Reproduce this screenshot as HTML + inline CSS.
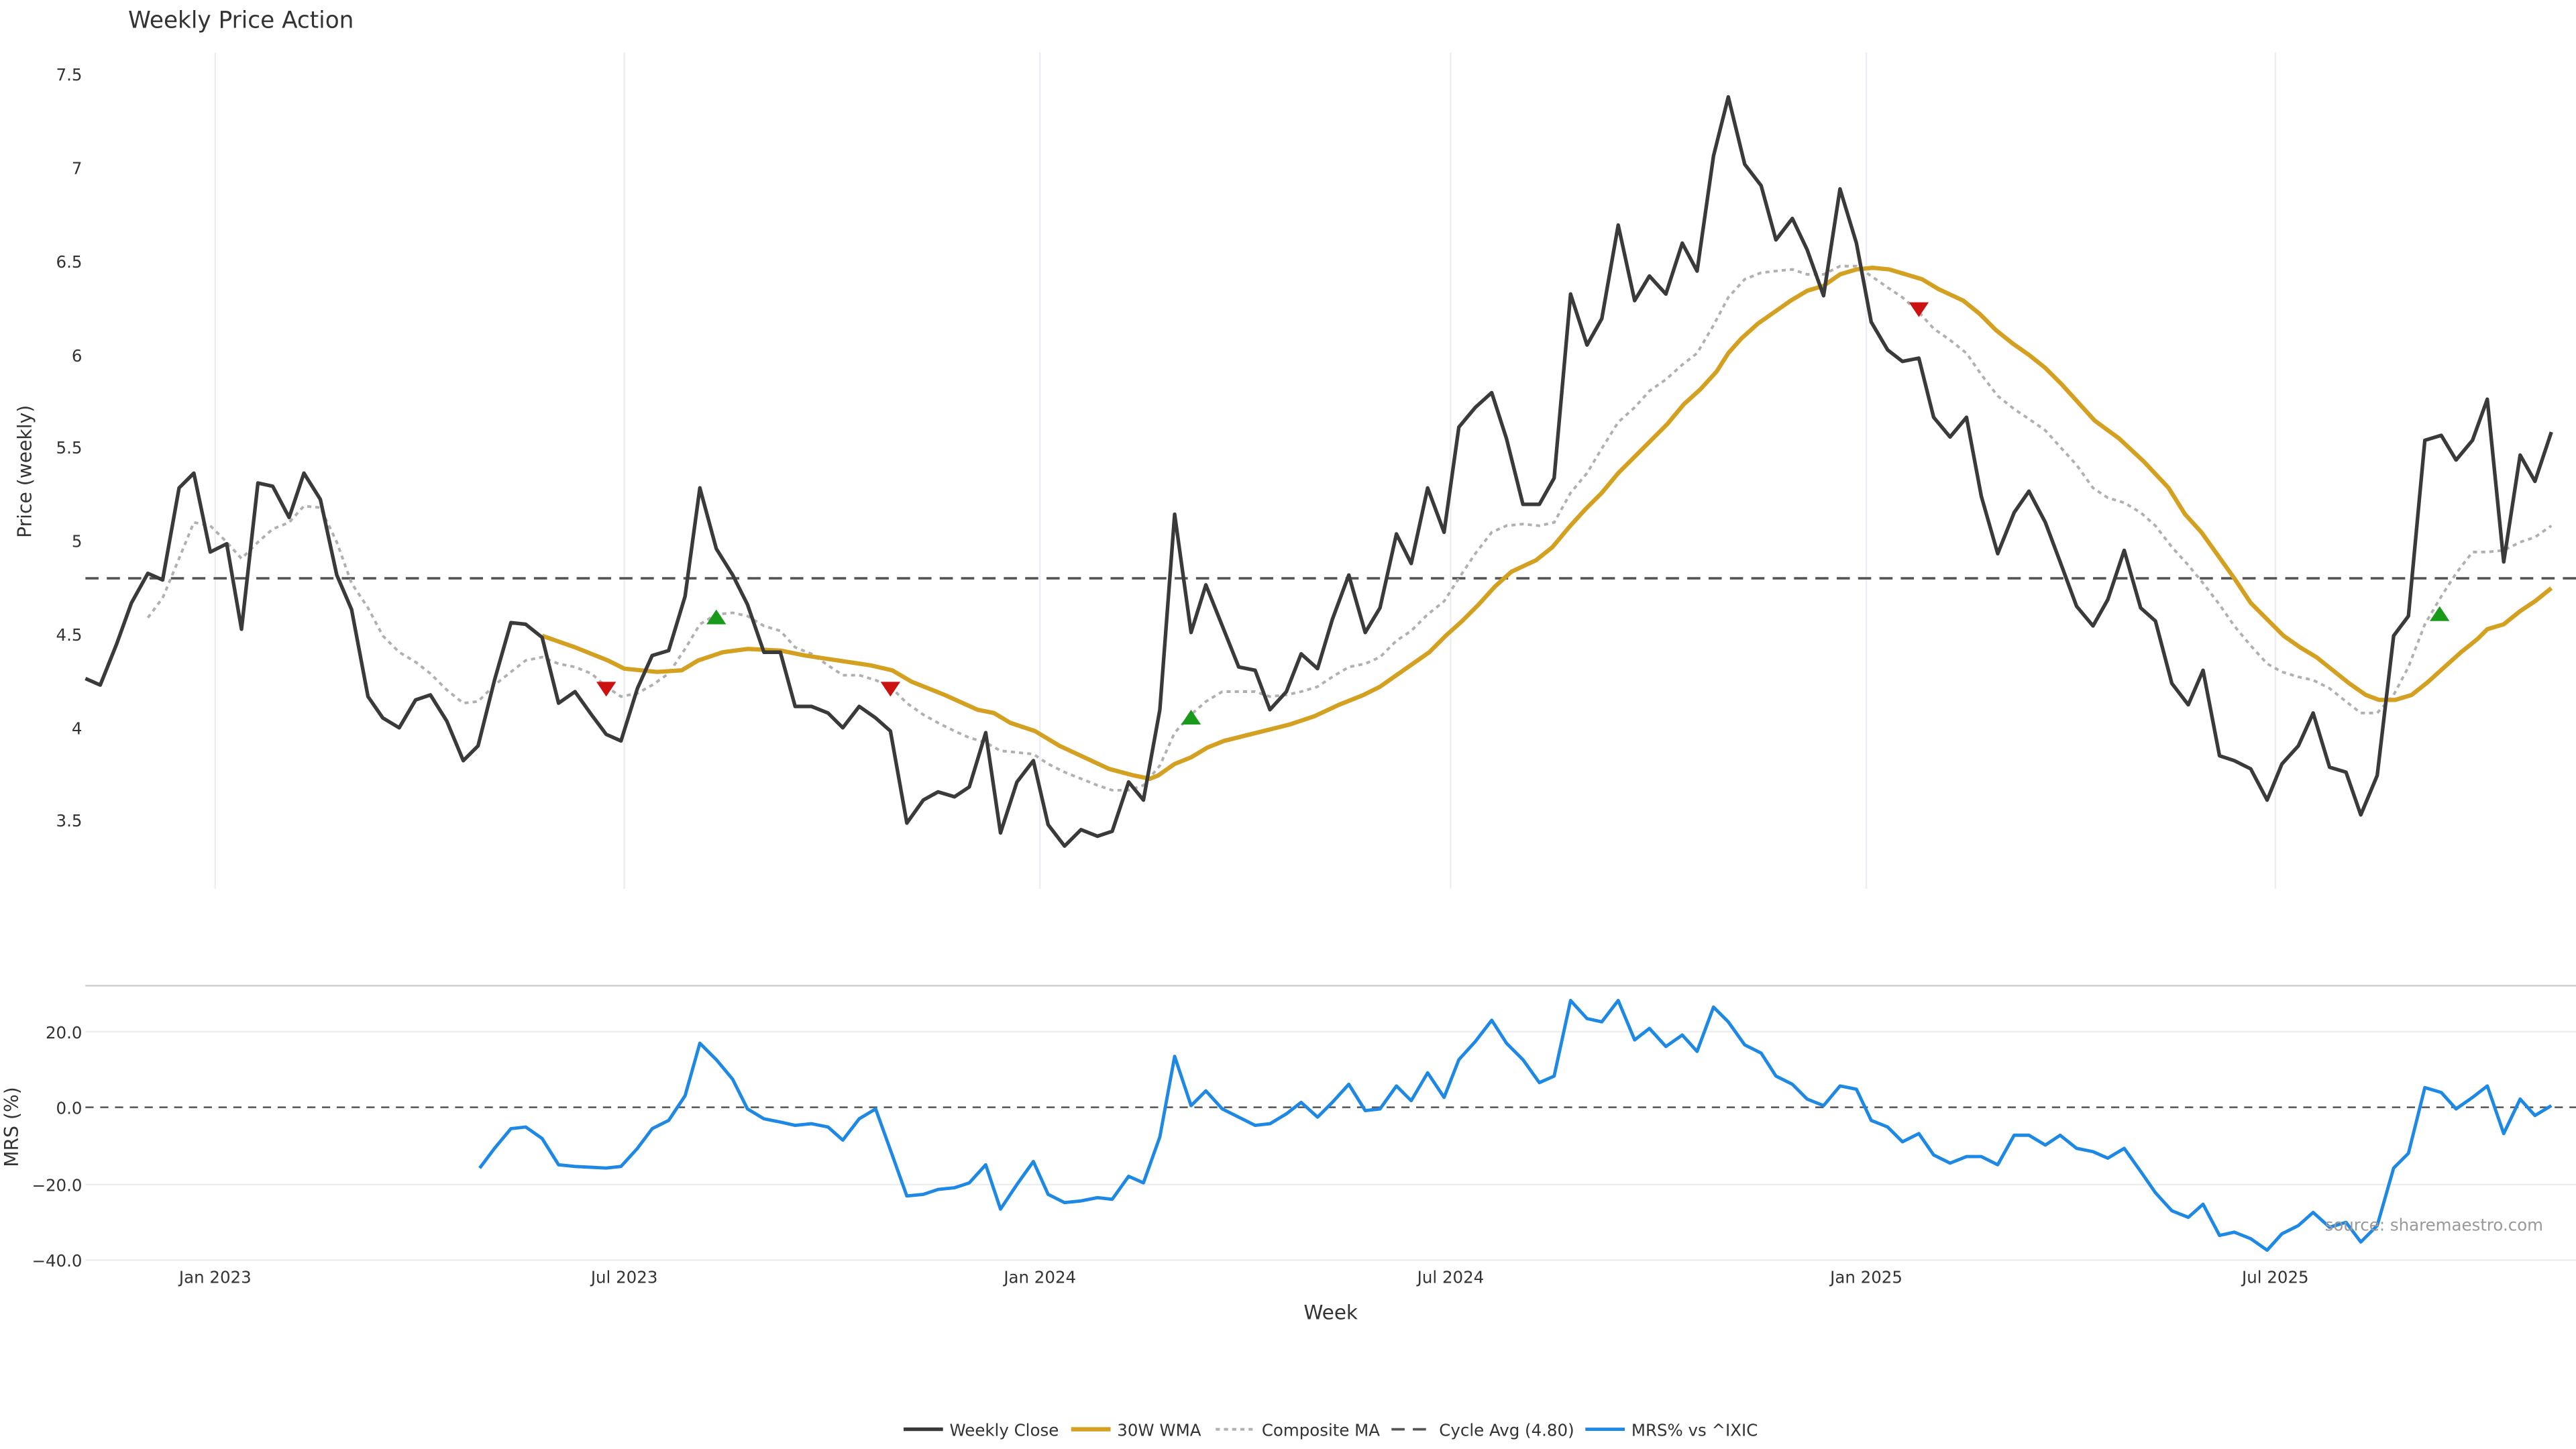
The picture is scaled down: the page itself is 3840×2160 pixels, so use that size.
<!DOCTYPE html>
<html><head><meta charset="utf-8"><style>
html,body{margin:0;padding:0;background:#fff;width:3840px;height:2160px;overflow:hidden}
svg{display:block}
text{font-family:"DejaVu Sans","Liberation Sans",sans-serif}
</style></head><body>
<svg width="3840" height="2160" viewBox="0 0 1568 882" xmlns="http://www.w3.org/2000/svg">
<rect width="1568" height="882" fill="#fff"/>
<text x="78" y="17" font-size="14" fill="#333">Weekly Price Action</text>
<g stroke="#eceef2" stroke-width="1">
<line x1="131" y1="32" x2="131" y2="541"/><line x1="380" y1="32" x2="380" y2="541"/>
<line x1="633" y1="32" x2="633" y2="541"/><line x1="883" y1="32" x2="883" y2="541"/>
<line x1="1136" y1="32" x2="1136" y2="541"/><line x1="1385" y1="32" x2="1385" y2="541"/>
</g>
<g font-size="10" fill="#333" text-anchor="end">
<text x="50" y="49">7.5</text><text x="50" y="106">7</text><text x="50" y="163">6.5</text>
<text x="50" y="220">6</text><text x="50" y="276">5.5</text><text x="50" y="333">5</text>
<text x="50" y="390">4.5</text><text x="50" y="447">4</text><text x="50" y="503">3.5</text>
</g>
<text transform="translate(19,287) rotate(-90)" font-size="11.5" fill="#333" text-anchor="middle">Price (weekly)</text>
<line x1="52" y1="352" x2="1568" y2="352" stroke="#555" stroke-width="1.5" stroke-dasharray="8,5"/>
<polyline fill="none" stroke="#b0b0b0" stroke-width="1.6" stroke-dasharray="2.5,2.5" points="90,376 99,364 109,340 118,318 128,320 138,330 147,340 157,330 166,322 176,318 185,308 195,309 205,330 214,355 224,370 233,387 243,397 253,403 262,410 272,420 282,428 291,427 301,417 311,409 320,402 330,400 340,404 350,406 360,410 369,418 378,424 388,422 397,417 407,410 417,395 426,380 436,374 446,373 455,375 465,381 475,384 484,394 494,398 504,405 513,411 523,411 533,414 542,418 552,428 562,435 571,440 581,445 590,449 600,452 609,457 619,458 629,459 638,465 648,470 658,474 668,478 677,481 687,481 696,478 706,466 715,446 725,435 734,427 744,421 754,421 764,421 773,424 783,423 792,421 802,418 811,412 821,406 831,404 840,400 850,390 859,384 869,374 879,366 888,352 898,337 908,324 917,320 927,319 937,320 946,318 956,300 966,288 975,273 985,257 995,248 1004,238 1014,231 1024,222 1033,215 1043,198 1052,181 1062,170 1072,166 1081,165 1091,164 1100,167 1110,167 1120,162 1130,162 1139,168 1149,175 1158,181 1168,190 1177,200 1187,207 1197,215 1206,228 1216,241 1226,249 1235,255 1245,262 1254,272 1264,283 1274,297 1283,303 1293,306 1303,312 1312,320 1322,333 1332,344 1341,355 1351,368 1360,381 1370,393 1380,404 1389,409 1399,412 1408,414 1418,419 1428,427 1437,434 1447,434 1457,423 1466,406 1476,380 1486,363 1495,349 1505,336 1514,336 1524,335 1534,330 1543,327 1553,320"/>
<polyline fill="none" stroke="#d4a020" stroke-width="2.6" stroke-linejoin="round" points="330,387 350,394 370,402 380,407 400,409 415,408 425,402 440,397 455,395 475,396 490,399 510,402 530,405 543,408 555,415 575,423 595,432 605,434 615,440 630,445 645,454 660,461 675,468 690,472 700,474 705,472 715,465 725,461 735,455 745,451 765,446 785,441 800,436 815,429 830,423 840,418 850,411 860,404 870,397 880,387 890,378 900,368 910,357 920,348 935,341 945,333 955,321 965,310 975,300 985,288 995,278 1005,268 1015,258 1025,246 1035,237 1045,226 1052,215 1060,206 1070,197 1080,190 1090,183 1100,177 1110,174 1120,167 1130,164 1140,163 1150,164 1160,167 1170,170 1180,176 1195,183 1205,191 1215,201 1225,209 1235,216 1245,224 1255,234 1265,245 1275,256 1290,267 1305,281 1320,297 1330,313 1340,324 1350,338 1360,352 1370,367 1380,377 1390,387 1400,394 1410,400 1420,408 1430,416 1440,423 1448,426 1458,426 1468,423 1478,415 1488,406 1498,397 1508,389 1514,383 1524,380 1534,372 1543,366 1553,358"/>
<polyline fill="none" stroke="#3a3a3a" stroke-width="2.2" stroke-linejoin="round" points="52,413 61,417 71,392 80,367 90,349 99,353 109,297 118,288 128,336 138,331 147,383 157,294 166,296 176,315 185,288 195,304 205,350 214,371 224,424 233,437 243,443 253,426 262,423 272,439 282,463 291,454 301,414 311,379 320,380 330,388 340,428 350,421 360,435 369,447 378,451 388,419 397,399 407,396 417,363 426,297 436,334 446,350 455,368 465,397 475,397 484,430 494,430 504,434 513,443 523,430 533,437 542,445 552,501 562,487 571,482 581,485 590,479 600,446 609,507 619,476 629,463 638,502 648,515 658,505 668,509 677,506 687,476 696,487 706,432 715,313 725,385 734,356 744,381 754,406 764,408 773,432 783,421 792,398 802,407 811,377 821,350 831,385 840,370 850,325 859,343 869,297 879,324 888,260 898,248 908,239 917,267 927,307 937,307 946,291 956,179 966,210 975,194 985,137 995,183 1004,168 1014,179 1024,148 1033,165 1043,95 1052,59 1062,100 1072,113 1081,146 1091,133 1100,152 1110,180 1120,115 1130,148 1139,196 1149,213 1158,220 1168,218 1177,254 1187,266 1197,254 1206,302 1216,337 1226,312 1235,299 1245,318 1254,342 1264,369 1274,381 1283,365 1293,335 1303,370 1312,378 1322,416 1332,429 1341,408 1351,460 1360,463 1370,468 1380,487 1389,465 1399,454 1408,434 1418,467 1428,470 1437,496 1447,472 1457,387 1466,375 1476,268 1486,265 1495,280 1505,268 1514,243 1524,342 1534,277 1543,293 1553,263"/>
<g fill="#cc1111">
<polygon points="363,415 375,415 369,424"/><polygon points="536,415 548,415 542,424"/><polygon points="1162,184 1174,184 1168,193"/>
</g>
<g fill="#1a9a1a">
<polygon points="430,380 442,380 436,371"/><polygon points="719,441 731,441 725,432"/><polygon points="1479,378 1491,378 1485,369"/>
</g>
<line x1="52" y1="600" x2="1568" y2="600" stroke="#d0d0d0" stroke-width="1"/>
<g stroke="#eeeeee" stroke-width="1">
<line x1="52" y1="628" x2="1568" y2="628"/><line x1="52" y1="721" x2="1568" y2="721"/><line x1="52" y1="767" x2="1568" y2="767"/>
</g>
<line x1="52" y1="674" x2="1568" y2="674" stroke="#555" stroke-width="1" stroke-dasharray="5,4"/>
<g font-size="10" fill="#333" text-anchor="end">
<text x="50" y="632">20.0</text><text x="50" y="678">0.0</text><text x="50" y="725">−20.0</text><text x="50" y="771">−40.0</text>
</g>
<text transform="translate(11,686) rotate(-90)" font-size="11.5" fill="#333" text-anchor="middle">MRS (%)</text>
<polyline fill="none" stroke="#1e88e5" stroke-width="2" stroke-linejoin="round" points="292,711 301,699 311,687 320,686 330,693 340,709 350,710 369,711 378,710 388,699 397,687 407,682 417,667 426,635 436,645 446,657 455,675 465,681 475,683 484,685 494,684 504,686 513,694 523,681 533,675 542,700 552,728 562,727 571,724 581,723 590,720 600,709 609,736 619,721 629,707 638,727 648,732 658,731 668,729 677,730 687,716 696,720 706,692 715,643 725,673 734,664 744,675 754,680 764,685 773,684 783,678 792,671 802,680 811,671 821,660 831,676 840,675 850,661 859,670 869,653 879,668 888,645 898,634 908,621 917,635 927,645 937,659 946,655 956,609 966,620 975,622 985,609 995,633 1004,626 1014,637 1024,630 1033,640 1043,613 1052,622 1062,636 1072,641 1081,655 1091,660 1100,669 1110,673 1120,661 1130,663 1139,682 1149,686 1158,695 1168,690 1177,703 1187,708 1197,704 1206,704 1216,709 1226,691 1235,691 1245,697 1254,691 1264,699 1274,701 1283,705 1293,699 1303,713 1312,726 1322,737 1332,741 1341,733 1351,752 1360,750 1370,754 1380,761 1389,751 1399,746 1408,738 1418,747 1428,744 1437,756 1447,746 1457,711 1466,702 1476,662 1486,665 1495,675 1505,668 1514,661 1524,690 1534,669 1543,679 1553,673"/>
<text x="1548" y="749" font-size="10" fill="#999" text-anchor="end">source: sharemaestro.com</text>
<g font-size="10" fill="#333" text-anchor="middle">
<text x="131" y="781">Jan 2023</text><text x="380" y="781">Jul 2023</text><text x="633" y="781">Jan 2024</text>
<text x="883" y="781">Jul 2024</text><text x="1136" y="781">Jan 2025</text><text x="1385" y="781">Jul 2025</text>
</g>
<text x="810" y="803" font-size="12" fill="#333" text-anchor="middle">Week</text>
<g font-size="10" fill="#333">
<line x1="550" y1="870" x2="574" y2="870" stroke="#3a3a3a" stroke-width="2.2"/><text x="578" y="874">Weekly Close</text>
<line x1="652" y1="870" x2="676" y2="870" stroke="#d4a020" stroke-width="2.6"/><text x="680" y="874">30W WMA</text>
<line x1="740" y1="870" x2="764" y2="870" stroke="#b0b0b0" stroke-width="1.6" stroke-dasharray="2.5,2.5"/><text x="768" y="874">Composite MA</text>
<line x1="847" y1="870" x2="871" y2="870" stroke="#555" stroke-width="1.5" stroke-dasharray="8,5"/><text x="876" y="874">Cycle Avg (4.80)</text>
<line x1="965" y1="870" x2="989" y2="870" stroke="#1e88e5" stroke-width="2"/><text x="993" y="874">MRS% vs ^IXIC</text>
</g>
</svg>
</body></html>
